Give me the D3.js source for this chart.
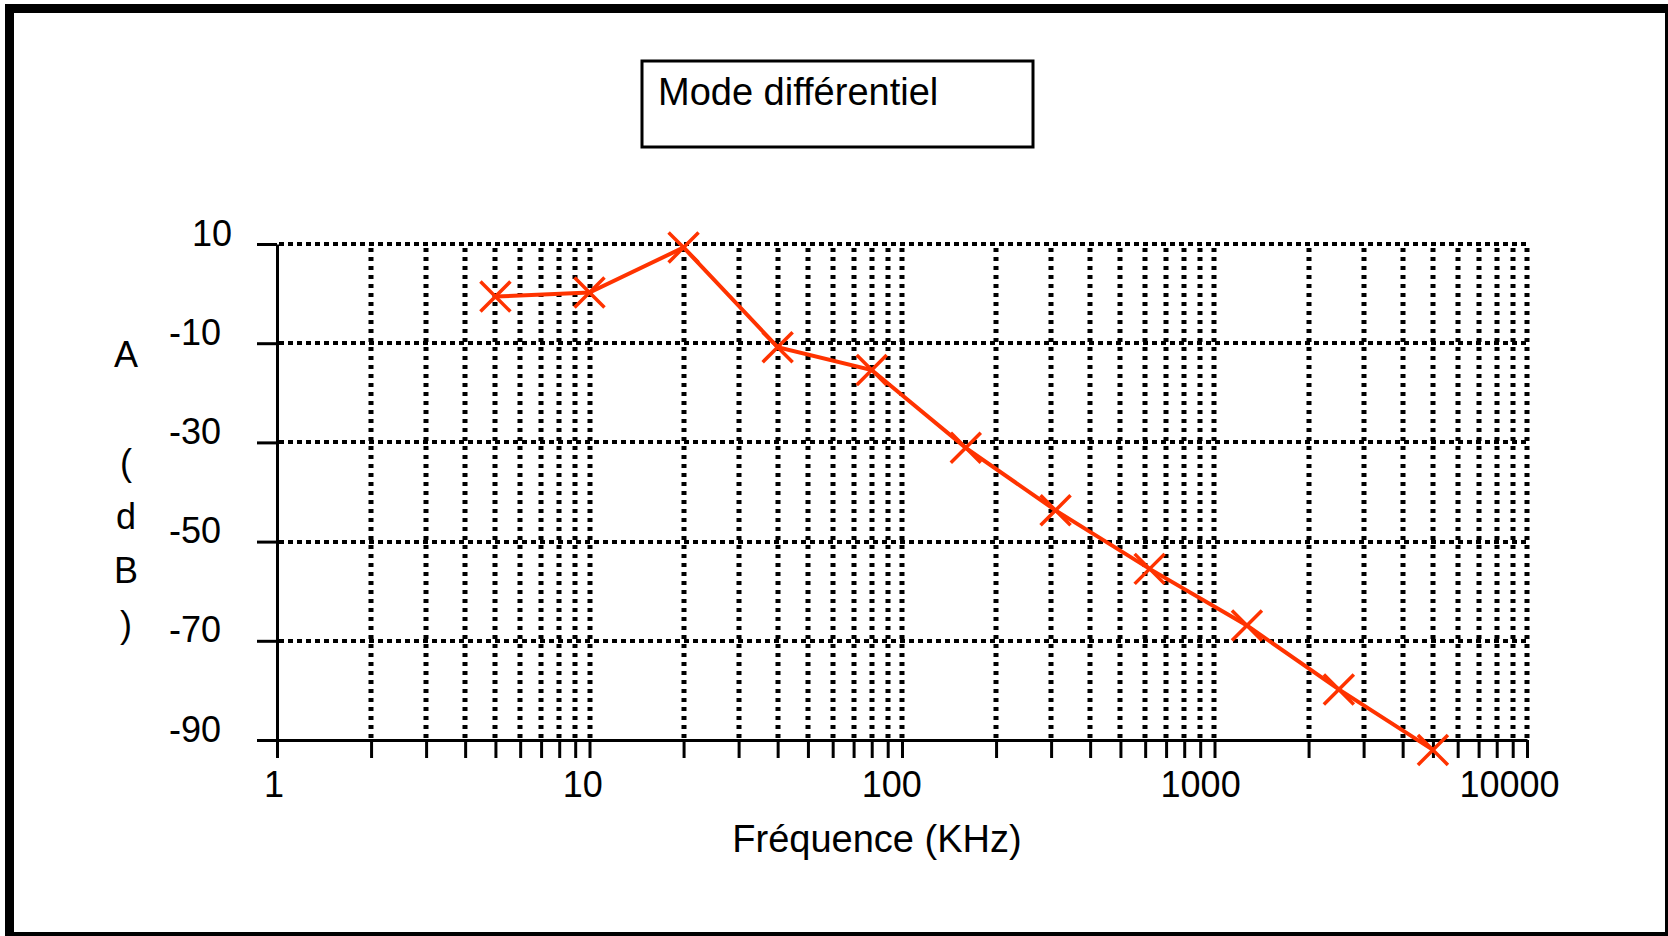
<!DOCTYPE html>
<html>
<head>
<meta charset="utf-8">
<script src="https://cdn.jsdelivr.net/npm/d3@7/dist/d3.min.js"></script>
<style>
  body { margin: 0; background: #fff; }
  text { font-family: "Liberation Sans", Arial, sans-serif; fill: #000; }
</style>
</head>
<body>
<div id="chart"></div>
<script>

// measured points (frequency in KHz, gain in dB)
const freq = [5, 10, 20, 40, 80, 160, 310, 620, 1270, 2500, 5000];
const gain = [-0.6, 0.2, 9.3, -10.8, -15.4, -31.1, -43.7, -55.5, -66.9, -79.8, -92];

const yTicks = [10, -10, -30, -50, -70, -90];
const xMajor = [1, 10, 100, 1000, 10000];
const title = "Mode différentiel";
const xTitle = "Fréquence (KHz)";
const yTitle = ["A", " ", "(", "d", "B", ")"];

var width = 1668;
var height = 936;

// all log ticks 1..10000
var xTicks = [];
xMajor.slice(0, -1).forEach(function(m) {
    for (var k = 1; k < 10; k++) xTicks.push(m * k);
});
xTicks.push(10000);

var svg = d3.select("#chart")
  .append("svg")
    .attr("width", width)
    .attr("height", height)

// frame
svg.append("rect")
    .attr("x", 5).attr("y", 4)
    .attr("width", width - 5).attr("height", height - 4)
    .attr("fill", "#000")
svg.append("rect")
    .attr("x", 14).attr("y", 13)
    .attr("width", 1651).attr("height", 919)
    .attr("fill", "#fff")

var xScale = d3.scaleLog()
    .domain([1, 10000])
    .range([277, 1527])

var yScale = d3.scaleLinear()
    .domain([-90, 10])
    .range([740, 244])

// grid
var grid = svg.append("g")
    .attr("stroke", "#000")

grid.selectAll("line.v")
    .data(xTicks.filter(d => d > 1))
    .join("line")
    .attr("class", "v")
    .attr("stroke-width", 5)
    .attr("stroke-dasharray", "4,5")
    .attr("x1", d => Math.round(xScale(d))).attr("x2", d => Math.round(xScale(d)))
    .attr("y1", yScale(10) + 4).attr("y2", yScale(-90))

grid.selectAll("line.h")
    .data(yTicks.filter(d => d > -90))
    .join("line")
    .attr("class", "h")
    .attr("stroke-width", 4)
    .attr("stroke-dasharray", "5,4")
    .attr("x1", xScale(1) + 2).attr("x2", xScale(10000) + 2)
    .attr("y1", d => Math.round(yScale(d))).attr("y2", d => Math.round(yScale(d)))

// axes
var yAxis = svg.append("g")
    .attr("transform", `translate(${xScale(1)},0)`)
    .call(d3.axisLeft(yScale).tickValues(yTicks).tickSize(20).tickSizeOuter(0)
        .tickFormat(d => String(d)))

var xAxis = svg.append("g")
    .attr("transform", `translate(0,${yScale(-90)})`)
    .call(d3.axisBottom(xScale).tickValues(xTicks).tickSize(18).tickSizeOuter(0)
        .tickFormat(d => xMajor.includes(d) ? String(d) : ""))

svg.selectAll(".domain, .tick line")
    .attr("stroke", "#000")
    .attr("stroke-width", 3)

yAxis.selectAll(".tick text")
    .attr("x", d => d < 0 ? -56 : -45)
    .attr("dy", "0.03em")
    .style("font-size", "36px")
    .style("font-family", "'Liberation Sans', Arial, sans-serif")

xAxis.selectAll(".tick text")
    .attr("x", d => -3.6 * String(d).length)
    .attr("y", 57)
    .attr("dy", 0)
    .style("font-size", "36px")
    .style("font-family", "'Liberation Sans', Arial, sans-serif")

// series
var line = d3.line()
    .x(d => xScale(d[0]))
    .y(d => yScale(d[1]))

var pts = freq.map((f, i) => [f, gain[i]]);

svg.append("path")
    .datum(pts)
    .attr("fill", "none")
    .attr("stroke", "#ff3300")
    .attr("stroke-width", 4)
    .attr("d", line)

svg.selectAll("path.mark")
    .data(pts)
    .join("path")
    .attr("class", "mark")
    .attr("transform", d => `translate(${xScale(d[0])},${yScale(d[1])})`)
    .attr("d", "M-15,-15L15,15M-15,15L15,-15")
    .attr("stroke", "#ff3300")
    .attr("stroke-width", 3.5)
    .attr("fill", "none")

// title box
svg.append("rect")
    .attr("x", 642).attr("y", 61)
    .attr("width", 391).attr("height", 86)
    .attr("fill", "#fff")
    .attr("stroke", "#000")
    .attr("stroke-width", 3)

svg.append("text")
    .attr("x", 658)
    .attr("y", 105)
    .style("font-size", "38px")
    .text(title)

// axis titles
svg.append("text")
    .attr("text-anchor", "middle")
    .attr("x", 877)
    .attr("y", 852)
    .style("font-size", "38px")
    .text(xTitle)

svg.selectAll("text.ytitle")
    .data(yTitle)
    .join("text")
    .attr("class", "ytitle")
    .attr("text-anchor", "middle")
    .attr("x", 126)
    .attr("y", (d, i) => 367 + i * 54)
    .style("font-size", "36px")
    .text(d => d)

</script>
</body>
</html>
